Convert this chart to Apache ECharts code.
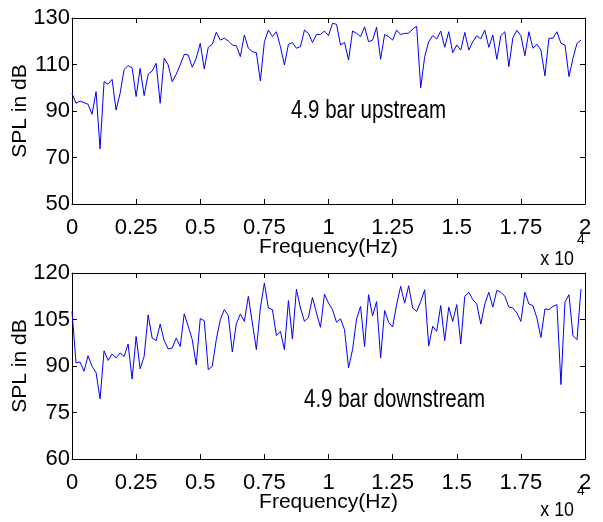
<!DOCTYPE html>
<html>
<head>
<meta charset="utf-8">
<script src="https://cdn.jsdelivr.net/npm/echarts@6/dist/echarts.min.js"></script>
<style>
  html, body { margin: 0; padding: 0; background: #fff; }
  #main { width: 603px; height: 522px; }
</style>
</head>
<body>
<div id="main"></div>
<script>
// SPL spectra, 128 samples from 0 to ~2e4 Hz
const step_hz = 156.25;
const upstream = [
  97.6, 93.3, 94.3, 93.6, 92.9, 88.6, 98.3, 73.7, 102.6, 101.5,
  103.6, 90.4, 97.6, 107.9, 109.5, 108.6, 96.2, 108.3, 96.6, 105.8,
  107.2, 110.5, 93.3, 112.7, 109.8, 102.6, 105.8, 109.8, 114.4, 114.1,
  108.8, 112.7, 119.1, 108.1, 117.4, 118.7, 123.9, 120.5, 121.3, 120.1,
  118.4, 118.1, 113.4, 122.7, 117.0, 115.5, 115.1, 102.9, 119.8, 124.8,
  122.0, 124.1, 117.7, 109.8, 118.7, 119.4, 117.0, 117.7, 124.8, 123.4,
  119.5, 122.9, 122.9, 124.4, 122.4, 127.7, 127.3, 118.4, 119.5, 111.9,
  124.4, 123.4, 122.0, 126.2, 119.8, 120.5, 126.0, 112.2, 122.9, 122.0,
  120.5, 124.8, 122.9, 123.4, 123.4, 125.3, 126.4, 100.0, 113.4, 119.8,
  122.4, 121.0, 124.4, 117.4, 124.1, 115.1, 118.4, 116.2, 123.8, 116.2,
  119.8, 122.4, 121.0, 124.8, 117.4, 122.7, 112.2, 122.4, 124.1, 109.1,
  121.5, 124.7, 122.4, 113.8, 124.1, 117.0, 118.7, 116.2, 105.1, 121.3,
  121.3, 124.1, 119.1, 118.4, 104.8, 112.7, 119.1, 120.5
];
const downstream = [
  107.6, 91.0, 91.3, 88.3, 93.3, 89.9, 87.9, 79.4, 94.9, 91.8,
  93.9, 92.6, 94.2, 93.1, 97.1, 85.8, 99.5, 89.1, 93.1, 106.5,
  99.0, 98.2, 103.5, 98.2, 95.5, 95.8, 99.0, 96.3, 106.8, 102.8,
  98.5, 90.4, 105.3, 104.6, 88.8, 89.9, 98.5, 104.9, 108.2, 106.3,
  94.5, 103.6, 106.8, 104.4, 112.5, 103.9, 95.3, 108.7, 116.8, 108.7,
  108.2, 99.8, 101.2, 95.3, 111.1, 98.7, 114.8, 108.7, 104.4, 105.7,
  112.1, 107.1, 102.5, 113.2, 110.3, 108.2, 104.1, 105.2, 101.7, 89.4,
  95.3, 105.2, 109.2, 96.3, 113.0, 106.2, 110.8, 92.6, 107.9, 104.1,
  102.6, 109.8, 115.7, 110.3, 115.9, 108.7, 107.6, 110.8, 114.6, 96.5,
  102.8, 101.2, 109.5, 98.2, 109.0, 104.4, 109.8, 97.1, 112.5, 113.8,
  111.4, 110.0, 103.5, 110.0, 113.8, 109.0, 114.4, 113.8, 112.5, 109.0,
  108.7, 107.1, 104.4, 113.8, 110.0, 109.5, 105.5, 99.2, 108.4, 108.2,
  109.2, 109.8, 84.0, 110.6, 113.0, 99.8, 98.5, 114.8
];
const y_top = { min: 50, max: 130, interval: 20 };
const y_bot = { min: 60, max: 120, interval: 15 };
const captions = ['4.9 bar upstream', '4.9 bar downstream'];

const font = "'Liberation Sans', Arial, sans-serif";
const fsize = 22;

function pairs(vals){
    return vals.map(function(v, i){ return [i*step_hz, v]; });
}

function x_axes(grid){
    var base = {
        gridIndex: grid, type: 'value', min: 0, max: 20000, interval: 2500,
        splitLine: {show: false},
        axisLine: {show: true, onZero: false, lineStyle: {color: '#000', width: 1}},
        axisTick: {show: true, inside: true, length: 5, lineStyle: {color: '#000'}},
    };
    var bottom = Object.assign({}, base, {
        position: 'bottom',
        name: 'Frequency(Hz)', nameLocation: 'middle', nameGap: 33, nameMoveOverlap: false,
        nameTextStyle: {color: '#000', fontFamily: font, fontSize: 21},
        axisLabel: {color: '#000', fontFamily: font, fontSize: fsize, margin: 13,
            formatter: function(v){ return String(v/10000); }},
    });
    var top = Object.assign({}, base, {position: 'top', axisLabel: {show: false}});
    return [bottom, top];
}

function y_axes(grid, r){
    var base = {
        gridIndex: grid, type: 'value', min: r.min, max: r.max, interval: r.interval,
        splitLine: {show: false},
        axisLine: {show: true, onZero: false, lineStyle: {color: '#000', width: 1}},
        axisTick: {show: true, inside: true, length: 5, lineStyle: {color: '#000'}},
    };
    var left = Object.assign({}, base, {
        position: 'left',
        name: 'SPL in dB', nameLocation: 'middle', nameGap: 41, nameMoveOverlap: false,
        nameTextStyle: {color: '#000', fontFamily: font, fontSize: 21},
        axisLabel: {color: '#000', fontFamily: font, fontSize: fsize, margin: 2},
    });
    var right = Object.assign({}, base, {position: 'right', axisLabel: {show: false}});
    return [left, right];
}

// captions drawn condensed like the original figure font
function caption(txt, x, y){
    return {type: 'text', x: x, y: y, scaleX: 0.82,
        style: {text: txt, font: '25px ' + font, fill: '#000',
            textAlign: 'left', textVerticalAlign: 'middle'}};
}

var chart = echarts.init(document.getElementById('main'), null, {renderer: 'canvas'});
var option = {
    animation: false,
    backgroundColor: '#fff',
    grid: [
        {left: 72, right: 18, top: 18, height: 186, outerBoundsMode: 'none', containLabel: false},
        {left: 72, right: 18, top: 273, height: 186, outerBoundsMode: 'none', containLabel: false},
    ],
    xAxis: x_axes(0).concat(x_axes(1)),
    yAxis: y_axes(0, y_top).concat(y_axes(1, y_bot)),
    series: [
        {type: 'line', xAxisIndex: 0, yAxisIndex: 0, data: pairs(upstream),
            showSymbol: false, lineStyle: {color: '#0000ff', width: 1}},
        {type: 'line', xAxisIndex: 2, yAxisIndex: 2, data: pairs(downstream),
            showSymbol: false, lineStyle: {color: '#0000ff', width: 1}},
    ],
    graphic: [
        caption(captions[0], 291, 111),
        caption(captions[1], 304, 400),
        {type: 'text', x: 574, y: 259, scaleX: 0.85, style: {text: 'x 10', font: '21px ' + font,
            fill: '#000', textAlign: 'right', textVerticalAlign: 'middle'}},
        {type: 'text', x: 577, y: 240, style: {text: '4', font: '14px ' + font,
            fill: '#000', textAlign: 'left', textVerticalAlign: 'middle'}},
        {type: 'text', x: 574, y: 510, scaleX: 0.85, style: {text: 'x 10', font: '21px ' + font,
            fill: '#000', textAlign: 'right', textVerticalAlign: 'middle'}},
        {type: 'text', x: 577, y: 491, style: {text: '4', font: '14px ' + font,
            fill: '#000', textAlign: 'left', textVerticalAlign: 'middle'}},
    ],
};
chart.setOption(option);
</script>
</body>
</html>
